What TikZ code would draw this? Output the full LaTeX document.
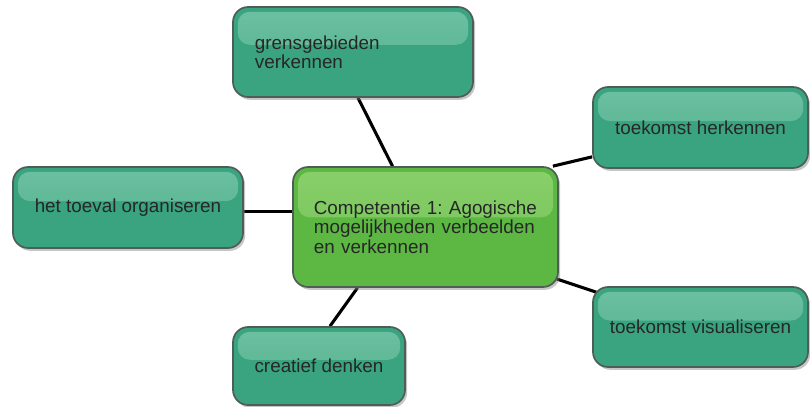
\documentclass[tikz,border=0pt]{standalone}
\usepackage{fontspec}
\setmainfont{Liberation Sans}
\usetikzlibrary{shadows,backgrounds,calc}
\hyphenpenalty=10000

\definecolor{leafgreen}{RGB}{58,164,128}
\definecolor{leaftop}{RGB}{118,198,168}
\definecolor{hubgreen}{RGB}{92,184,66}
\definecolor{hubtop}{RGB}{146,212,114}
\definecolor{rimgray}{RGB}{78,94,86}

\tikzset{
  bubble/.style 2 args={draw=rimgray, line width=1.2pt, rounded corners=0.38cm, fill=#1,
    drop shadow={shadow xshift=1.5pt, shadow yshift=-2pt, opacity=0.45},
    font=\fontsize{13.4}{13.8}\selectfont\frenchspacing, text=black!85, inner xsep=0.3cm,
    path picture={\shade[top color=#2, bottom color=#2!40!#1, rounded corners=0.3cm, opacity=0.85]
      ([xshift=0.12cm,yshift=-0.12cm]path picture bounding box.north west) rectangle
      ($([xshift=-0.12cm]path picture bounding box.north east)!0.42!([xshift=-0.12cm]path picture bounding box.south east)$);}},
  leaf/.style={bubble={leafgreen}{leaftop}},
  hub/.style={bubble={hubgreen}{hubtop}},
  link/.style={line width=2.2pt, black}
}

\begin{document}
\begin{tikzpicture}[x=0.025cm, y=-0.025cm]
  \useasboundingbox (0,0) rectangle (810,407);
  \node[hub, minimum width=6.625cm, minimum height=3cm, inner xsep=0.52cm, text width=5.58cm, align=left] (comp) at (425.5,227) {Competentie 1: Agogische\\mogelijkheden verbeelden\\en verkennen};
  \node[leaf, minimum width=6cm, minimum height=2.25cm, inner xsep=0.55cm, text width=4.9cm, align=left] (grens) at (353,52) {grensgebieden\\verkennen};
  \node[leaf, minimum width=5.75cm, minimum height=2.025cm] (toeval) at (128,207.5) {het toeval organiseren};
  \node[leaf, minimum width=5.375cm, minimum height=2.025cm] (herkennen) at (700.5,127.5) {toekomst herkennen};
  \node[leaf, minimum width=5.375cm, minimum height=2cm] (visual) at (700.5,327) {toekomst visualiseren};
  \node[leaf, minimum width=4.3cm, minimum height=1.95cm] (creatief) at (319,366) {creatief denken};
  \begin{scope}[on background layer]
    \draw[link] ([xshift=-0.825cm]comp.north) -- ([xshift=0.125cm]grens.south);
    \draw[link] ([yshift=-0.1cm]toeval.east) -- ([yshift=-0.1cm]toeval.east -| comp.west);
    \draw[link] ([xshift=-0.15cm]comp.north east) -- ([yshift=0.3cm]herkennen.south west);
    \draw[link] ([xshift=-0.05cm,yshift=0.22cm]comp.south east) -- ([xshift=0.1cm,yshift=-0.15cm]visual.north west);
    \draw[link] ([xshift=-1.7cm]comp.south) -- ([xshift=0.275cm]creatief.north);
  \end{scope}
\end{tikzpicture}
\end{document}
